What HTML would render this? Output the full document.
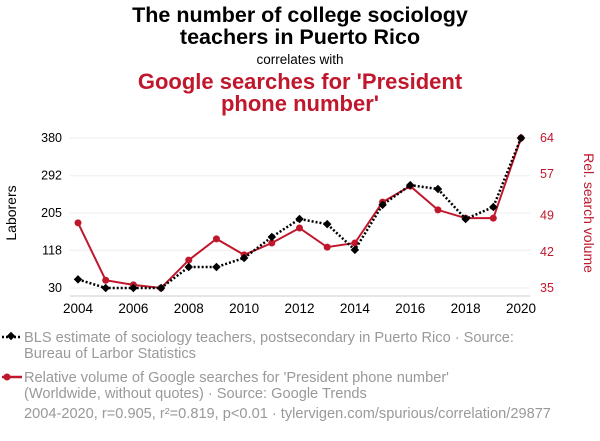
<!DOCTYPE html>
<html><head><meta charset="utf-8">
<style>
body{margin:0;background:#fff;font-family:"Liberation Sans",sans-serif;}
svg text{font-family:"Liberation Sans",sans-serif;}
</style></head>
<body>
<svg width="600" height="436" xmlns="http://www.w3.org/2000/svg">
<text x="300" y="22" text-anchor="middle" font-size="21.5" font-weight="bold" fill="#000">The number of college sociology</text>
<text x="300" y="44" text-anchor="middle" font-size="21.5" font-weight="bold" fill="#000">teachers in Puerto Rico</text>
<text x="300" y="64" text-anchor="middle" font-size="13.5" fill="#000">correlates with</text>
<text x="300" y="89" text-anchor="middle" font-size="22" font-weight="bold" fill="#c0172d">Google searches for 'President</text>
<text x="300" y="111" text-anchor="middle" font-size="22" font-weight="bold" fill="#c0172d">phone number'</text>
<g id="grid"></g>
<g id="axes"></g>
<g id="series"></g>
<text transform="translate(16,213) rotate(-90)" text-anchor="middle" font-size="14" fill="#000">Laborers</text>
<text transform="translate(584,213) rotate(90)" text-anchor="middle" font-size="14" fill="#c0172d">Rel. search volume</text>
<g>
<line x1="2" y1="337" x2="22" y2="337" stroke="#000" stroke-width="2.5" stroke-dasharray="2,2"/>
<rect x="8" y="333" width="6" height="6" transform="rotate(45 11 336)" fill="#000"/>
<text x="24" y="342" font-size="14.6" fill="#999">BLS estimate of sociology teachers, postsecondary in Puerto Rico · Source:</text>
<text x="24" y="358" font-size="14.6" fill="#999">Bureau of Larbor Statistics</text>
</g>
<g>
<line x1="2" y1="377" x2="22" y2="377" stroke="#c0172d" stroke-width="2.5"/>
<circle cx="7" cy="377" r="3.5" fill="#c0172d"/>
<text x="24" y="382" font-size="14.6" fill="#999">Relative volume of Google searches for 'President phone number'</text>
<text x="24" y="398" font-size="14.6" fill="#999">(Worldwide, without quotes) · Source: Google Trends</text>
</g>
<text x="24" y="418" font-size="14.6" fill="#999">2004-2020, r=0.905, r²=0.819, p&lt;0.01 · tylervigen.com/spurious/correlation/29877</text>
</svg>
<script>
const years=[2004,2005,2006,2007,2008,2009,2010,2011,2012,2013,2014,2015,2016,2017,2018,2019,2020];
const laborers=[50,30,30,30,79,79,100,149,191,179,119,224,270,261,191,219,380];
const searches=[47.6,36.5,35.6,35,40.4,44.5,41.4,43.7,46.6,42.9,43.7,51.6,54.7,50.1,48.5,48.5,64];
const leftTicks=[30,118,205,292,380];
const rightTicks=[35,42,49,57,64];
const xTicks=[2004,2006,2008,2010,2012,2014,2016,2018,2020];
const NS="http://www.w3.org/2000/svg";
const x=v=>78+(v-2004)*(521-78)/16;
const yl=v=>288-(v-30)*150/350;
const yr=v=>288-(v-35)*150/29;
function mk(tag,attrs,parent,txt){const e=document.createElementNS(NS,tag);for(const k in attrs)e.setAttribute(k,attrs[k]);if(txt!==undefined)e.textContent=txt;document.getElementById(parent).appendChild(e);return e;}
leftTicks.forEach(t=>{
 const g=mk('line',{x1:70,x2:530,y1:yl(t),y2:yl(t),stroke:'#eee','stroke-width':1},'grid');
 
 
 const l=mk('text',{x:62,y:yl(t)+4,'text-anchor':'end','font-size':12.5,fill:'#000'},'axes',t);
 
 
});
rightTicks.forEach(t=>{
 const l=mk('text',{x:540,y:yr(t)+4,'font-size':12.5,fill:'#c0172d'},'axes',t);
 
 
});
xTicks.forEach(t=>{
 const l=mk('text',{x:x(t),y:313,'text-anchor':'middle','font-size':13.5,fill:'#000'},'axes',t);
 
 
});
const ax=mk('line',{x1:70,x2:530,y1:296,y2:296,stroke:'#ccc'},'axes');


const rp=mk('polyline',{points:years.map((y,i)=>x(y)+','+yr(searches[i])).join(' '),fill:'none',stroke:'#c0172d','stroke-width':2},'series');


years.forEach((y,i)=>{const c=mk('circle',{cx:x(y),cy:yr(searches[i]),r:3.5,fill:'#c0172d'},'series');
 
 });
const bp=mk('polyline',{points:years.map((y,i)=>x(y)+','+yl(laborers[i])).join(' '),fill:'none',stroke:'#000','stroke-width':2.5,'stroke-dasharray':'2,2'},'series');


years.forEach((y,i)=>{const px=x(y),py=yl(laborers[i]);
 const r=mk('rect',{x:px-3,y:py-3,width:6,height:6,fill:'#000',transform:`rotate(45 ${px} ${py})`},'series');
 
 });
</script>
</body></html>
